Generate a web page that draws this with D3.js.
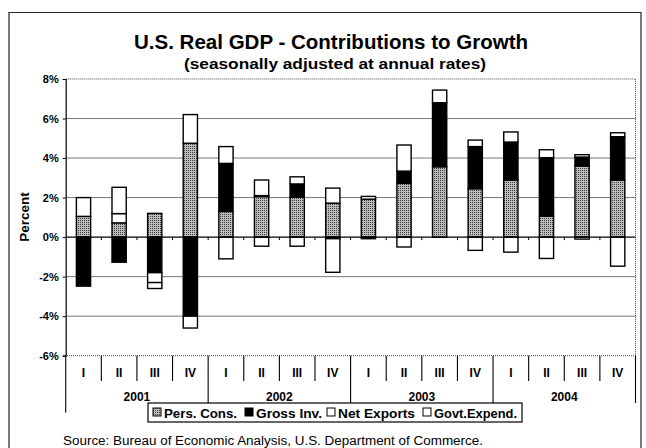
<!DOCTYPE html>
<html>
<head>
<meta charset="utf-8">
<script src="https://cdn.jsdelivr.net/npm/d3@7/dist/d3.min.js"></script>
<style>
  body { margin: 0; background: #fff; }
  svg text { font-family: "Liberation Sans", Arial, sans-serif; }
</style>
</head>
<body>
<svg id="chart" width="646" height="448"></svg>
<script>
var quarters = ["I", "II", "III", "IV", "I", "II", "III", "IV", "I", "II", "III", "IV", "I", "II", "III", "IV"];
var years = ["2001", "2002", "2003", "2004"];
var persCons   = [1.05, 0.72, 1.2, 4.75, 1.3, 2.05, 2.03, 1.72, 1.92, 2.72, 3.56, 2.45, 2.89, 1.06, 3.6, 2.89];
var grossInv   = [-2.48, -1.27, -1.8, -4.0, 2.43, 0.05, 0.66, -0.08, -0.08, 0.62, 3.24, 2.13, 1.92, 2.96, 0.45, 2.19];
var netExports = [0, 0.47, -0.5, -0.6, -1.1, -0.46, -0.46, -1.7, 0, -0.5, 0, -0.67, -0.76, -1.08, -0.1, -1.47];
var govtExpend = [0.95, 1.33, -0.3, 1.45, 0.85, 0.79, 0.36, 0.76, 0.14, 1.32, 0.64, 0.33, 0.51, 0.4, 0.12, 0.2];
var yTicks = [-6, -4, -2, 0, 2, 4, 6, 8];
var seriesNames = ["Pers. Cons.", "Gross Inv.", "Net Exports", "Govt.Expend."];

(function() {
    var svg = d3.select("#chart");
    var left = 65.7, right = 635.5, plotTop = 79, plotBottom = 355.7;

    svg.append("rect").attr("width", 646).attr("height", 448).attr("fill", "#fff");

    // halftone pattern for personal consumption
    var pat = svg.append("defs").append("pattern").attr("id", "dots")
        .attr("width", 2).attr("height", 2).attr("patternUnits", "userSpaceOnUse");
    pat.append("rect").attr("width", 2).attr("height", 2).attr("fill", "#bcbcbc");
    pat.append("rect").attr("width", 1).attr("height", 1).attr("fill", "#3c3c3c");

    var fills = ["url(#dots)", "#000", "#fff", "#fff"];

    // outer frame
    svg.append("path")
        .attr("d", "M9,448V12.5H641V448")
        .attr("fill", "none").attr("stroke", "#222").attr("stroke-width", 1.2);

    // title
    svg.append("text").attr("x", 331).attr("y", 49)
        .attr("text-anchor", "middle").attr("font-weight", "bold").attr("font-size", 21)
        .attr("textLength", 394).attr("lengthAdjust", "spacingAndGlyphs")
        .text("U.S. Real GDP - Contributions to Growth");
    svg.append("text").attr("x", 335).attr("y", 69)
        .attr("text-anchor", "middle").attr("font-weight", "bold").attr("font-size", 15)
        .attr("textLength", 302).attr("lengthAdjust", "spacingAndGlyphs")
        .text("(seasonally adjusted at annual rates)");

    var idx = d3.range(quarters.length);
    var x = d3.scaleBand().domain(idx).range([left, right]).paddingInner(0.6).paddingOuter(0.3);
    var y = d3.scaleLinear().domain([-6, 8]).range([plotBottom, plotTop]);
    var step = (right - left) / quarters.length;

    // gridlines
    svg.append("g").selectAll("line")
        .data(yTicks.filter(function(d) { return d !== 8 && d !== -6 && d !== 0; }))
        .enter().append("line")
        .attr("x1", left).attr("x2", right)
        .attr("y1", function(d) { return y(d); }).attr("y2", function(d) { return y(d); })
        .attr("stroke", "#777").attr("stroke-width", 1);

    // dotted plot border
    svg.append("path")
        .attr("d", "M" + left + "," + y(8) + "H" + right + "V" + y(-6) + "H" + left)
        .attr("fill", "none").attr("stroke", "#444").attr("stroke-width", 1).attr("stroke-dasharray", "1,1");

    // y axis
    var yAxis = d3.axisLeft(y).tickValues(yTicks).tickSize(3).tickPadding(4)
        .tickFormat(function(d) { return d + "%"; });
    var gy = svg.append("g").attr("transform", "translate(" + left + ",0)").call(yAxis);
    gy.select(".domain").attr("stroke", "#000").attr("stroke-width", 1.2);
    gy.selectAll("text").attr("font-size", 11).attr("font-weight", "bold")
        .style("font-family", "'Liberation Sans', Arial, sans-serif").attr("fill", "#000");

    svg.append("text")
        .attr("transform", "translate(29,217) rotate(-90)")
        .attr("text-anchor", "middle").attr("font-weight", "bold").attr("font-size", 13.5)
        .text("Percent");

    // stacked bars
    var rows = idx.map(function(i) {
        return { i: i, "Pers. Cons.": persCons[i], "Gross Inv.": grossInv[i],
                 "Net Exports": netExports[i], "Govt.Expend.": govtExpend[i] };
    });
    var stacked = d3.stack().keys(seriesNames).offset(d3.stackOffsetDiverging)(rows);

    svg.append("g").selectAll("g")
        .data(stacked).enter().append("g")
        .attr("fill", function(d, k) { return fills[k]; })
        .selectAll("rect")
        .data(function(d) { return d; })
        .enter().append("rect")
        .attr("x", function(d) { return x(d.data.i); })
        .attr("width", x.bandwidth())
        .attr("y", function(d) { return y(Math.max(d[0], d[1])); })
        .attr("height", function(d) { return Math.abs(y(d[0]) - y(d[1])); })
        .attr("stroke", "#000").attr("stroke-width", 1.4);

    // zero line with small ticks
    svg.append("line").attr("x1", left).attr("x2", right)
        .attr("y1", y(0)).attr("y2", y(0)).attr("stroke", "#000").attr("stroke-width", 1.4);
    svg.append("g").selectAll("line")
        .data(d3.range(1, quarters.length)).enter().append("line")
        .attr("x1", function(d) { return left + d * step; }).attr("x2", function(d) { return left + d * step; })
        .attr("y1", y(0)).attr("y2", y(0) + 3)
        .attr("stroke", "#000");

    // category axis: quarters and years
    svg.append("g").selectAll("line")
        .data(d3.range(0, quarters.length + 1)).enter().append("line")
        .attr("x1", function(d) { return left + d * step; }).attr("x2", function(d) { return left + d * step; })
        .attr("y1", plotBottom)
        .attr("y2", function(d) { return d % 4 === 0 ? (d === 16 ? 403 : 412.5) : 381; })
        .attr("stroke", "#000").attr("stroke-width", 1.1);

    svg.append("g").selectAll("text")
        .data(quarters).enter().append("text")
        .attr("x", function(d, i) { return left + (i + 0.5) * step; })
        .attr("y", 376.5)
        .attr("text-anchor", "middle").attr("font-weight", "bold").attr("font-size", 12)
        .text(function(d) { return d; });

    svg.append("g").selectAll("text")
        .data(years).enter().append("text")
        .attr("x", function(d, i) { return left + (i * 4 + 2) * step; })
        .attr("y", 400.5)
        .attr("text-anchor", "middle").attr("font-weight", "bold").attr("font-size", 12)
        .text(function(d) { return d; });

    // legend
    var legend = svg.append("g");
    legend.append("rect").attr("x", 148).attr("y", 403).attr("width", 374).attr("height", 19)
        .attr("fill", "#fff").attr("stroke", "#000").attr("stroke-width", 1.2);
    var legX = [153, 245, 327, 423];
    var legW = [73, 66, 77, 83];
    var items = legend.selectAll("g").data(seriesNames).enter().append("g")
        .attr("transform", function(d, k) { return "translate(" + legX[k] + ",0)"; });
    items.append("rect").attr("x", 0).attr("y", 408).attr("width", 8).attr("height", 8)
        .attr("fill", function(d, k) { return fills[k]; })
        .attr("stroke", "#000").attr("stroke-width", 1);
    items.append("text").attr("x", 11).attr("y", 417.5)
        .attr("font-weight", "bold").attr("font-size", 13.5)
        .attr("textLength", function(d, k) { return legW[k]; }).attr("lengthAdjust", "spacingAndGlyphs")
        .text(function(d) { return d; });

    // source note
    svg.append("text").attr("x", 63).attr("y", 445).attr("font-size", 12.5)
        .attr("textLength", 420).attr("lengthAdjust", "spacingAndGlyphs")
        .text("Source: Bureau of Economic Analysis, U.S. Department of Commerce.");
})();
</script>
</body>
</html>
